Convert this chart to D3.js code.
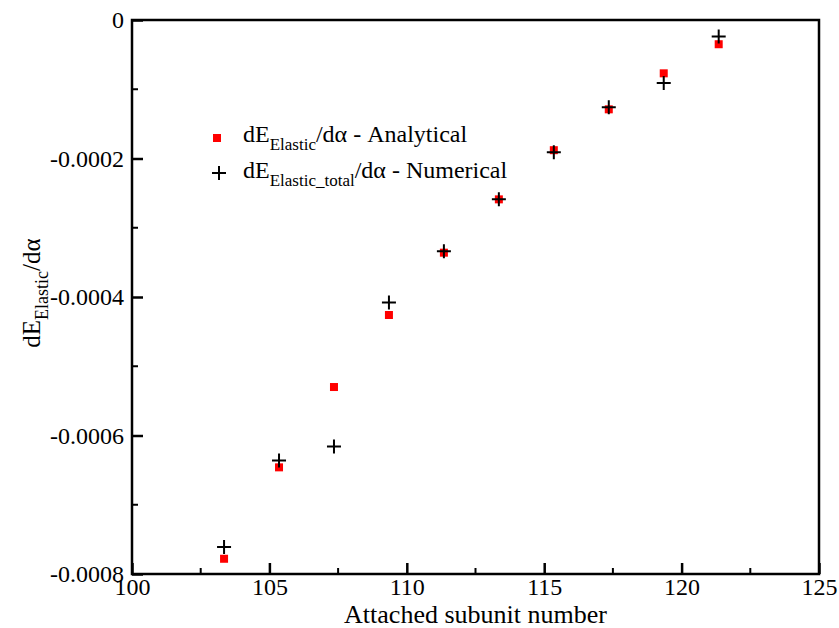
<!DOCTYPE html>
<html>
<head>
<meta charset="utf-8">
<script src="https://cdn.jsdelivr.net/npm/d3@7"></script>
<style>
  body { margin: 0; background: #fff; }
  text { font-family: "Liberation Serif", "Times New Roman", serif; fill: #000; }
</style>
</head>
<body>
<div id="chart"></div>
<script>
// subunit numbers and derivative values
const subunits = [103.35, 105.35, 107.35, 109.35, 111.35, 113.35, 115.35, 117.35, 119.35, 121.35];
const analytical = [-0.000778, -0.000646, -0.000530, -0.000426, -0.000336, -0.000259, -0.000188, -0.000129, -0.000077, -0.000035];
const numerical = [-0.000761, -0.000636, -0.000616, -0.000408, -0.000334, -0.000259, -0.000191, -0.000126, -0.000091, -0.000024];
const xTicks = [100, 105, 110, 115, 120, 125];
const yTicks = [0, -0.0002, -0.0004, -0.0006, -0.0008];

const width = 839;
const height = 628;
const margin = { left: 132, right: 20, top: 20, bottom: 54 };

const svg = d3.select("#chart")
    .append("svg")
    .attr("width", width)
    .attr("height", height);

const x = d3.scaleLinear().domain([100, 125]).range([margin.left, width - margin.right]);
const y = d3.scaleLinear().domain([-0.0008, 0]).range([height - margin.bottom, margin.top]);

// minor ticks
const xMinor = d3.range(102.5, 125, 5);
const yMinor = [-0.0001, -0.0003, -0.0005, -0.0007];

svg.append("g").selectAll("line")
    .data(xMinor)
    .enter().append("line")
    .attr("x1", d => x(d)).attr("x2", d => x(d))
    .attr("y1", y.range()[0]).attr("y2", y.range()[0] - 6)
    .attr("stroke", "#000").attr("stroke-width", 2);

svg.append("g").selectAll("line")
    .data(yMinor)
    .enter().append("line")
    .attr("x1", x.range()[0]).attr("x2", x.range()[0] + 6)
    .attr("y1", d => y(d)).attr("y2", d => y(d))
    .attr("stroke", "#000").attr("stroke-width", 2);

// major ticks and labels
const xAxis = svg.append("g")
    .attr("transform", `translate(0,${y.range()[0]})`)
    .call(d3.axisBottom(x).tickValues(xTicks).tickSize(-11).tickPadding(0).tickFormat(d3.format("d")));

const yAxis = svg.append("g")
    .attr("transform", `translate(${x.range()[0]},0)`)
    .call(d3.axisLeft(y).tickValues(yTicks).tickSize(-11).tickPadding(8)
        .tickFormat(d => d === 0 ? "0" : d.toFixed(4)));

[xAxis, yAxis].forEach(a => {
    a.select(".domain").remove();
    a.selectAll(".tick line").attr("stroke", "#000").attr("stroke-width", 2.5);
    a.selectAll(".tick text")
        .attr("font-family", "Liberation Serif, serif")
        .attr("font-size", 24)
        .attr("fill", "#000");
});
yAxis.selectAll(".tick text").attr("dy", "0.33em");
// baseline a little over 20px below the axis line
xAxis.selectAll(".tick text").attr("y", 21).attr("dy", null);

// frame
svg.append("rect")
    .attr("x", x.range()[0]).attr("y", y.range()[1])
    .attr("width", x.range()[1] - x.range()[0])
    .attr("height", y.range()[0] - y.range()[1])
    .attr("fill", "none").attr("stroke", "#000").attr("stroke-width", 2.5);

// axis titles
svg.append("text")
    .attr("x", (x.range()[0] + x.range()[1]) / 2)
    .attr("y", 623)
    .attr("text-anchor", "middle")
    .attr("font-size", 26)
    .text("Attached subunit number");

const yTitle = svg.append("text")
    .attr("transform", `translate(40,${(y.range()[0] + y.range()[1]) / 2 - 4}) rotate(-90)`)
    .attr("text-anchor", "middle")
    .attr("font-size", 25);
yTitle.append("tspan").text("dE");
yTitle.append("tspan").attr("font-size", 18).attr("dy", 8).text("Elastic");
yTitle.append("tspan").attr("dy", -8).text("/dα");

// data marks
const sq = 8;
svg.append("g").selectAll("rect")
    .data(subunits)
    .enter().append("rect")
    .attr("x", (d, i) => x(d) - sq / 2)
    .attr("y", (d, i) => y(analytical[i]) - sq / 2)
    .attr("width", sq).attr("height", sq)
    .attr("fill", "#ff0000");

svg.append("g").selectAll("path")
    .data(subunits)
    .enter().append("path")
    .attr("d", (d, i) => {
        const cx = x(d), cy = y(numerical[i]), r = 7;
        return `M${cx - r},${cy}H${cx + r}M${cx},${cy - r}V${cy + r}`;
    })
    .attr("stroke", "#000").attr("stroke-width", 2).attr("fill", "none");

// legend
const legend = svg.append("g");
legend.append("rect")
    .attr("x", 213).attr("y", 134).attr("width", sq).attr("height", sq)
    .attr("fill", "#ff0000");
legend.append("path")
    .attr("d", "M212,173H226M219,166V180")
    .attr("stroke", "#000").attr("stroke-width", 2);

const l1 = legend.append("text").attr("x", 243).attr("y", 142).attr("font-size", 24);
l1.append("tspan").text("dE");
l1.append("tspan").attr("font-size", 17).attr("dy", 8).text("Elastic");
l1.append("tspan").attr("dy", -8).text("/dα - Analytical");

const l2 = legend.append("text").attr("x", 243).attr("y", 178).attr("font-size", 24);
l2.append("tspan").text("dE");
l2.append("tspan").attr("font-size", 17).attr("dy", 8).text("Elastic_total");
l2.append("tspan").attr("dy", -8).text("/dα - Numerical");
</script>
</body>
</html>
